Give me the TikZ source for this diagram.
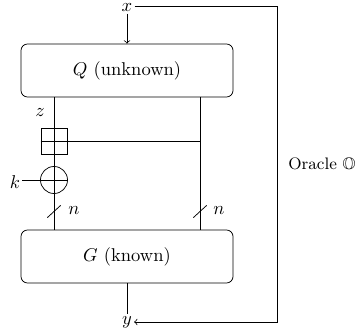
\documentclass[tikz,border=0pt]{standalone}
\usepackage{amssymb}
\begin{document}
\begin{tikzpicture}[x=0.54pt,y=-0.54pt,
  blockbox/.style={draw,rounded corners=3.5pt,minimum width=114.5pt,minimum height=28.6pt,inner sep=0pt},
  lbl/.style={inner sep=1pt},
  xorbox/.style={draw,minimum size=14pt,inner sep=0pt},
  xorcirc/.style={draw,circle,minimum size=14.6pt,inner sep=0pt}]
\useasboundingbox (0,0) rectangle (364,334);
\node[blockbox] (Q) at (127,70.5) {$Q$ (unknown)};
\node[blockbox] (G) at (127,256.5) {$G$ (known)};
\node[lbl] (x) at (127,7.5) {$x$};
\node[lbl] (y) at (127,322) {$y$};
\node[lbl] (z) at (40,113) {$z$};
\node[xorbox] (sq) at (54,141.5) {};
\node[xorcirc] (ox) at (54,180) {};
\node[lbl] (k) at (15,182) {$k$};
\coordinate (R) at (200,141.5);
\node[lbl] (n1) at (74,211) {$n$};
\node[lbl] (n2) at (219,211) {$n$};
\node[lbl,font=\small] (or) at (322,165) {Oracle $\mathbb{O}$};
\coordinate (c1) at (277,6);
\coordinate (c2) at (277,322);
\draw[->] (x) -- (Q);
\draw (Q.south -| sq) -- (G.north -| sq);
\draw (Q.south -| R) -- (G.north -| R);
\draw (sq.west) -- (R);
\draw (k.east |- ox) -- (ox.east);
\coordinate (s1) at (54,211.5);
\coordinate (s2) at (200,211.5);
\draw (s1) ++(-3.6pt,-3.3pt) -- ++(7.2pt,6.6pt);
\draw (s2) ++(-3.6pt,-3.3pt) -- ++(7.2pt,6.6pt);
\draw (G) -- (y);
\draw[->] (x.east |- c1) -- (c1) -- (c2) -- (y.east);
\end{tikzpicture}
\end{document}
